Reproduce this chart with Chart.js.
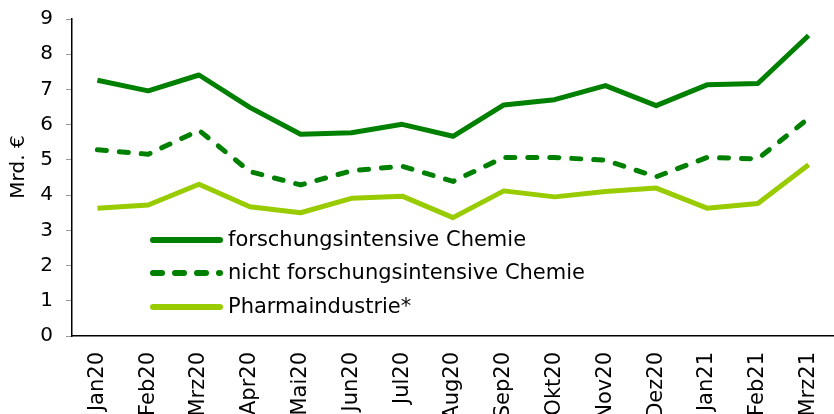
<!DOCTYPE html>
<html>
<head>
<meta charset="utf-8">
<script src="https://cdn.jsdelivr.net/npm/chart.js@4.4.1/dist/chart.umd.min.js"></script>
<style>
  html, body { margin: 0; padding: 0; background: #fff; }
  #chart { display: block; }
</style>
</head>
<body>
<canvas id="chart" width="834" height="414"></canvas>
<script>
// categories and values (Mrd. €)
const categories = ['Jan20', 'Feb20', 'Mrz20', 'Apr20', 'Mai20', 'Jun20', 'Jul20', 'Aug20',
    'Sep20', 'Okt20', 'Nov20', 'Dez20', 'Jan21', 'Feb21', 'Mrz21'];
const forschung = [7.26, 6.96, 7.41, 6.49, 5.73, 5.77, 6.01, 5.67, 6.56, 6.71, 7.11, 6.54, 7.13, 7.17, 8.53];
const nichtForschung = [5.29, 5.16, 5.84, 4.67, 4.29, 4.69, 4.82, 4.39, 5.07, 5.07, 4.99, 4.52, 5.07, 5.03, 6.18];
const pharma = [3.63, 3.72, 4.31, 3.67, 3.50, 3.91, 3.97, 3.36, 4.12, 3.95, 4.10, 4.20, 3.63, 3.76, 4.86];
const yTicks = [0, 1, 2, 3, 4, 5, 6, 7, 8, 9];
const seriesNames = ['forschungsintensive Chemie', 'nicht forschungsintensive Chemie', 'Pharmaindustrie*'];
const yTitle = 'Mrd. €';

const DARK = '#008000';
const LIGHT = '#99cc00';
const FONT = 'DejaVu Sans, Verdana, sans-serif';

// legend drawn inside the plot area, bottom left, plus the y title
const innerLegend = {
    id: 'innerLegend',
    afterDraw(chart) {
        const ctx = chart.ctx;
        const x0 = 153, x1 = 220, tx = 228;
        const rows = [240, 273, 307];
        ctx.save();
        chart.data.datasets.forEach((ds, i) => {
            const y = rows[i];
            ctx.strokeStyle = ds.borderColor;
            ctx.lineWidth = 6;
            ctx.lineCap = 'round';
            ctx.setLineDash(ds.borderDash ? [9, 13] : []);
            ctx.beginPath();
            ctx.moveTo(x0, y);
            ctx.lineTo(x1, y);
            ctx.stroke();
            ctx.setLineDash([]);
            ctx.fillStyle = '#000';
            ctx.font = '21px ' + FONT;
            ctx.textBaseline = 'middle';
            ctx.textAlign = 'left';
            ctx.fillText(ds.label, tx, y + 1);
        });

        // y axis title
        ctx.translate(19, 167);
        ctx.rotate(-Math.PI / 2);
        ctx.fillStyle = '#000';
        ctx.font = '20px ' + FONT;
        ctx.textAlign = 'center';
        ctx.textBaseline = 'middle';
        ctx.fillText(yTitle, 0, 0);
        ctx.restore();
    }
};

new Chart(document.getElementById('chart'), {
    type: 'line',
    data: {
        labels: categories,
        datasets: [
            { label: seriesNames[0], data: forschung, borderColor: DARK, borderWidth: 5 },
            { label: seriesNames[1], data: nichtForschung, borderColor: DARK, borderWidth: 5, borderDash: [9, 13], borderCapStyle: 'round' },
            { label: seriesNames[2], data: pharma, borderColor: LIGHT, borderWidth: 5 },
        ],
    },
    options: {
        responsive: false,
        animation: false,
        layout: { padding: { top: 19, right: 0, left: 0, bottom: 0 } },
        elements: {
            point: { radius: 0 },
            line: { tension: 0, fill: false, borderJoinStyle: 'round' },
        },
        plugins: {
            legend: { display: false },
            tooltip: { enabled: false },
        },
        scales: {
            x: {
                offset: true,
                grid: { display: false, drawTicks: false },
                border: { color: '#000', width: 1.5 },
                ticks: {
                    color: '#000',
                    font: { family: FONT, size: 21 },
                    maxRotation: 90,
                    minRotation: 90,
                    padding: 16,
                    autoSkip: false,
                },
                afterFit(scale) {
                    scale.height = 78;
                    scale.paddingLeft = 0;
                    scale.paddingRight = 0;
                },
            },
            y: {
                min: 0,
                max: 9,
                afterBuildTicks(scale) { scale.ticks = yTicks.map(v => ({ value: v })); },
                grid: { drawOnChartArea: false, drawTicks: true, tickLength: 6, color: '#999' },
                border: { color: '#000', width: 1.5 },
                ticks: {
                    color: '#000',
                    font: { family: FONT, size: 20 },
                    padding: 13,
                },
                afterFit(scale) {
                    scale.width = 72;
                    scale.paddingTop = 0;
                    scale.paddingBottom = 0;
                },
            },
        },
    },
    plugins: [innerLegend],
});
</script>
</body>
</html>
